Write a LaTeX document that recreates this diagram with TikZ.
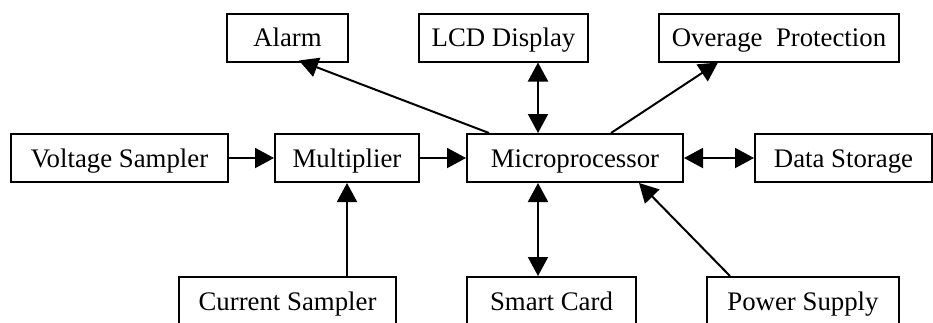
\documentclass[tikz,border=0pt]{standalone}
\usepackage{fontspec}
\setmainfont{Liberation Serif}
\usetikzlibrary{arrows.meta,calc}

\tikzset{
  blk/.style={draw, line width=1pt, inner sep=0pt, minimum height=24pt,
    font=\fontsize{13.4pt}{15pt}\selectfont, text height=1.1em, text depth=0.2em},
  link/.style={line width=1pt, -{Triangle[length=9.5pt,width=10pt]}},
  dlink/.style={line width=1pt, {Triangle[length=9.5pt,width=10pt]}-{Triangle[length=9.5pt,width=10pt]}},
}

\begin{document}
\begin{tikzpicture}[x=0.5pt, y=-0.5pt]
  \useasboundingbox (0,0) rectangle (933,322);
  \clip (0,0) rectangle (933,322);

  % upper row
  \node[blk, minimum width=60.5pt] (al) at (287.5,37.5) {Alarm};
  \node[blk, minimum width=84.5pt] (lcd) at (503.5,37.5) {LCD Display};
  \node[blk, minimum width=120pt] (ov) at (779,37.5) {Overage\ \ Protection};

  % middle row
  \node[blk, minimum width=108.5pt] (vs) at (119.5,158) {Voltage Sampler};
  \node[blk, minimum width=72pt] (mul) at (347,158) {Multiplier};
  \node[blk, minimum width=108pt] (mp) at (575,158) {Microprocessor};
  \node[blk, minimum width=88.5pt] (ds) at (843.5,158) {Data Storage};

  % lower row (runs past the bottom edge)
  \node[blk, minimum width=108.5pt] (cs) at (287.5,301) {Current Sampler};
  \node[blk, minimum width=84.5pt] (sc) at (551.5,301) {Smart Card};
  \node[blk, minimum width=96pt] (ps) at (803,301) {Power Supply};

  % signal path
  \draw[link] (vs.east) -- (mul.west);
  \draw[link] (mul.east) -- (mp.west);
  \draw[dlink] (mp.east) -- (ds.west);
  \draw[link] (mul.south |- cs.north) -- (mul.south);

  % microprocessor peripherals
  \coordinate (up) at ($(mp.north west)+(72,0)$);
  \coordinate (dn) at ($(mp.south west)+(72,0)$);
  \draw[dlink] (up) -- (up |- lcd.south);
  \draw[dlink] (dn) -- (dn |- sc.north);
  \draw[link] ($(mp.north west)+(23,0)$) -- ($(al.south west)+(73,-2)$);
  \draw[link] ($(mp.north west)+(145,0)$) -- ($(ov.south west)+(60,0)$);
  \draw[link] ($(ps.north west)+(24,0)$) -- ($(mp.south west)+(173,0)$);
\end{tikzpicture}
\end{document}
